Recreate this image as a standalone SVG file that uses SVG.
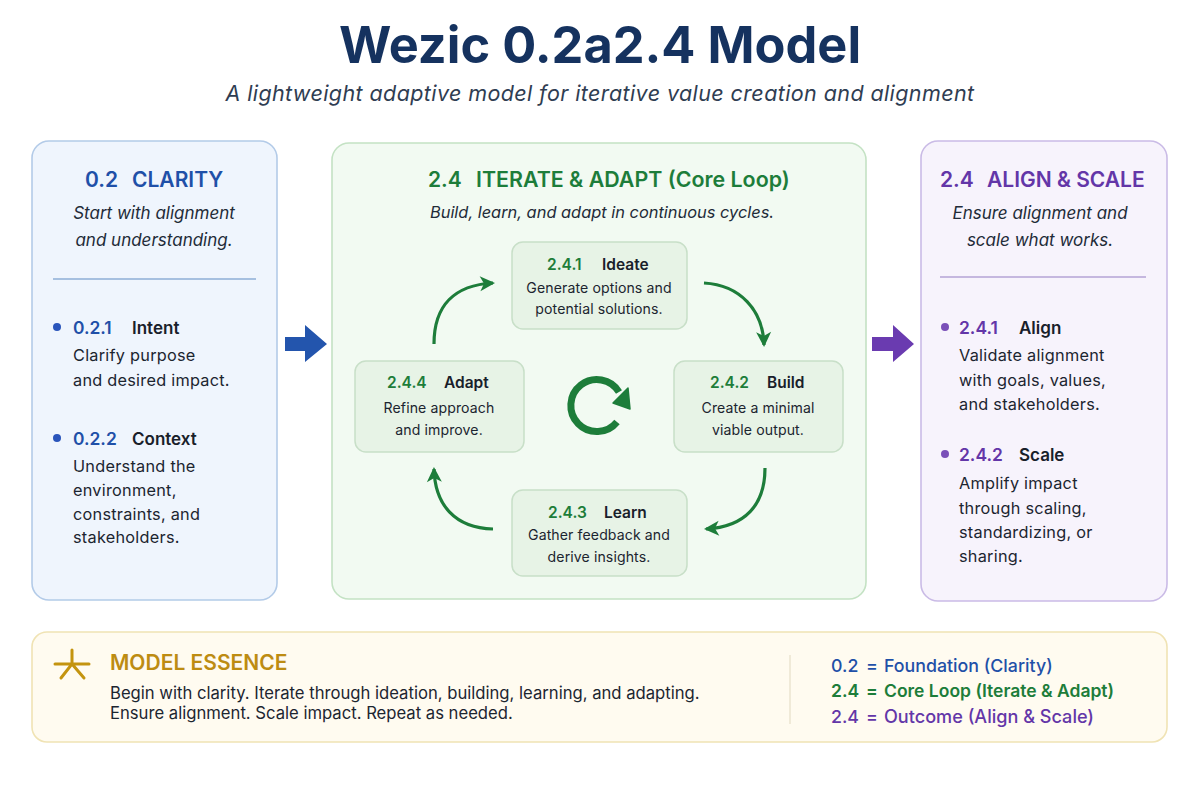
<svg xmlns="http://www.w3.org/2000/svg" width="1200" height="800" viewBox="0 0 1200 800">
<defs>
<marker id="ah" markerUnits="userSpaceOnUse" markerWidth="20" markerHeight="20" refX="14" refY="9" orient="auto"><path d="M1 1.5L16 9L1 16.5L5 9Z" fill="#1d7d3a"/></marker>
</defs>
<style>
text{font-family:Inter,"Liberation Sans",sans-serif;fill:#1c2530}
.panel{stroke-width:1.6}
.c{text-anchor:middle}
.h{font-size:21px;font-weight:600}
.sub{font-size:17px;font-style:italic;fill:#222b38}
.num{font-size:17.4px;font-weight:600}
.name{font-size:17px;font-weight:600;fill:#18202a}
.b{font-size:16.3px;letter-spacing:.25px}
.sn{font-size:15.5px;font-weight:600}
.st{font-size:15.5px;font-weight:600;fill:#18202a}
.sb{font-size:14.1px;letter-spacing:.1px}
.leg{font-size:17.8px;font-weight:500}
.blue{fill:#1f50a8}.green{fill:#1d7d3a}.purple{fill:#6336a8}
.box{fill:#e7f3e6;stroke:#c8dfc8;stroke-width:1.5}
.flow{fill:none;stroke:#1d7d3a;stroke-width:3.2;marker-end:url(#ah)}
</style>
<rect width="1200" height="800" fill="#ffffff"/>
<g id="title">
<text class="c" x="600" y="63" style="font-size:50.5px;font-weight:700;fill:#15325f">Wezic 0.2a2.4 Model</text>
<text class="c" x="600" y="101" style="font-size:21.5px;font-style:italic;fill:#2f3d52;letter-spacing:.4px">A lightweight adaptive model for iterative value creation and alignment</text>
</g>
<g id="clarity">
<rect class="panel" x="32" y="141" width="245" height="459" rx="17" fill="#eff5fd" stroke="#b3cbe8"/>
<text class="h blue" x="85" y="187">0.2</text><text class="h blue" x="132" y="187">CLARITY</text>
<text class="sub c" x="154" y="219">Start with alignment</text>
<text class="sub c" x="154" y="246">and understanding.</text>
<line x1="53" y1="279" x2="256" y2="279" stroke="#8eaed6" stroke-width="1.5"/>
<circle cx="57" cy="327" r="4" fill="#2a55bb"/>
<text class="num blue" x="73" y="333.5">0.2.1</text><text class="name" x="132" y="333.5">Intent</text>
<text class="b" x="73" y="361">Clarify purpose</text><text class="b" x="73" y="386">and desired impact.</text>
<circle cx="57" cy="438" r="4" fill="#2a55bb"/>
<text class="num blue" x="73" y="444.5">0.2.2</text><text class="name" x="132" y="444.5">Context</text>
<text class="b" x="73" y="472">Understand the</text><text class="b" x="73" y="496">environment,</text><text class="b" x="73" y="520">constraints, and</text><text class="b" x="73" y="543">stakeholders.</text>
</g>
<g id="core">
<rect class="panel" x="332" y="143" width="534" height="456" rx="17" fill="#f2faf2" stroke="#c4e2c4"/>
<text class="h green" x="428" y="187">2.4</text><text class="h green" x="476" y="187" style="font-size:21.4px">ITERATE &amp; ADAPT (Core Loop)</text>
<text class="sub c" x="602" y="218" style="font-size:16.4px">Build, learn, and adapt in continuous cycles.</text>
</g>
<g id="ideate"><rect class="box" x="512" y="242" width="175" height="87" rx="11"/>
<text class="sn green" x="547" y="270">2.4.1</text><text class="st" x="602" y="270">Ideate</text>
<text class="sb c" x="599" y="293">Generate options and</text><text class="sb c" x="599" y="314">potential solutions.</text></g>
<g id="build"><rect class="box" x="674" y="361" width="169" height="91" rx="11"/>
<text class="sn green" x="710" y="388">2.4.2</text><text class="st" x="767" y="388">Build</text>
<text class="sb c" x="758" y="413">Create a minimal</text><text class="sb c" x="758" y="435">viable output.</text></g>
<g id="learn"><rect class="box" x="512" y="490" width="175" height="86" rx="11"/>
<text class="sn green" x="548" y="518">2.4.3</text><text class="st" x="604" y="518">Learn</text>
<text class="sb c" x="599" y="540">Gather feedback and</text><text class="sb c" x="599" y="562">derive insights.</text></g>
<g id="adapt"><rect class="box" x="355" y="361" width="169" height="91" rx="11"/>
<text class="sn green" x="387" y="388">2.4.4</text><text class="st" x="444" y="388">Adapt</text>
<text class="sb c" x="439" y="413">Refine approach</text><text class="sb c" x="439" y="435">and improve.</text></g>
<g id="align">
<rect class="panel" x="921" y="141" width="246" height="460" rx="17" fill="#f7f3fc" stroke="#cabbe6"/>
<text class="h purple" x="940" y="187">2.4</text><text class="h purple" x="987" y="187">ALIGN &amp; SCALE</text>
<text class="sub c" x="1040" y="219">Ensure alignment and</text>
<text class="sub c" x="1040" y="246">scale what works.</text>
<line x1="940" y1="277" x2="1146" y2="277" stroke="#b5a3d6" stroke-width="1.5"/>
<circle cx="945" cy="327" r="4" fill="#7a4fb8"/>
<text class="num purple" x="959" y="333.5">2.4.1</text><text class="name" x="1019" y="333.5">Align</text>
<text class="b" x="959" y="361">Validate alignment</text><text class="b" x="959" y="386">with goals, values,</text><text class="b" x="959" y="410">and stakeholders.</text>
<circle cx="945" cy="454" r="4" fill="#7a4fb8"/>
<text class="num purple" x="959" y="460.5">2.4.2</text><text class="name" x="1019" y="460.5">Scale</text>
<text class="b" x="959" y="489">Amplify impact</text><text class="b" x="959" y="514">through scaling,</text><text class="b" x="959" y="538">standardizing, or</text><text class="b" x="959" y="562">sharing.</text>
</g>
<g id="essence">
<rect class="panel" x="32" y="632" width="1135" height="110" rx="15" fill="#fffbf0" stroke="#f0e3b4"/>
<g stroke="#c4940f" stroke-width="3" stroke-linecap="round" fill="none"><path d="M55 664H89M72 650V664L61 678M72 664L84 678"/></g>
<text x="110" y="670" style="font-size:21px;font-weight:600;fill:#bd8c12">MODEL ESSENCE</text>
<text x="110" y="699" style="font-size:16.65px">Begin with clarity. Iterate through ideation, building, learning, and adapting.</text>
<text x="110" y="719" style="font-size:16.65px">Ensure alignment. Scale impact. Repeat as needed.</text>
<line x1="790" y1="655" x2="790" y2="724" stroke="#e6dfc8" stroke-width="1.2"/>
<text x="831" y="672" class="leg blue">0.2</text><text x="866" y="672" class="leg blue">=</text><text x="884" y="672" class="leg blue">Foundation (Clarity)</text>
<text x="831" y="697" class="leg green" style="font-size:17.5px;font-weight:600">2.4</text><text x="866" y="697" class="leg green" style="font-size:17.5px;font-weight:600">=</text><text x="884" y="697" class="leg green" style="font-size:17.5px;font-weight:600">Core Loop (Iterate &amp; Adapt)</text>
<text x="831" y="722.5" class="leg purple">2.4</text><text x="866" y="722.5" class="leg purple">=</text><text x="884" y="722.5" class="leg purple" style="font-size:18.1px">Outcome (Align &amp; Scale)</text>
</g>
<g id="connectors">
<path d="M285 337H305V325L327 344L305 362V351H285Z" fill="#2355ad"/>
<path d="M872 337H893V325L914 344L893 362V351H872Z" fill="#6a3bb0"/>
<path class="flow" d="M434 344C434 305 455 285 493 283"/>
<path class="flow" d="M704 283C740 285 763 310 764 345"/>
<path class="flow" d="M765 468C765 505 745 527 706 529"/>
<path class="flow" d="M493 529C455 528 435 505 434 469"/>
<path d="M617 422A26 26 0 1 1 619 392" fill="none" stroke="#1d7d3a" stroke-width="7"/>
<path d="M628 388L630 409L613 403Z" fill="#1d7d3a" stroke="#1d7d3a" stroke-width="1.5" stroke-linejoin="round"/>
</g>
</svg>
